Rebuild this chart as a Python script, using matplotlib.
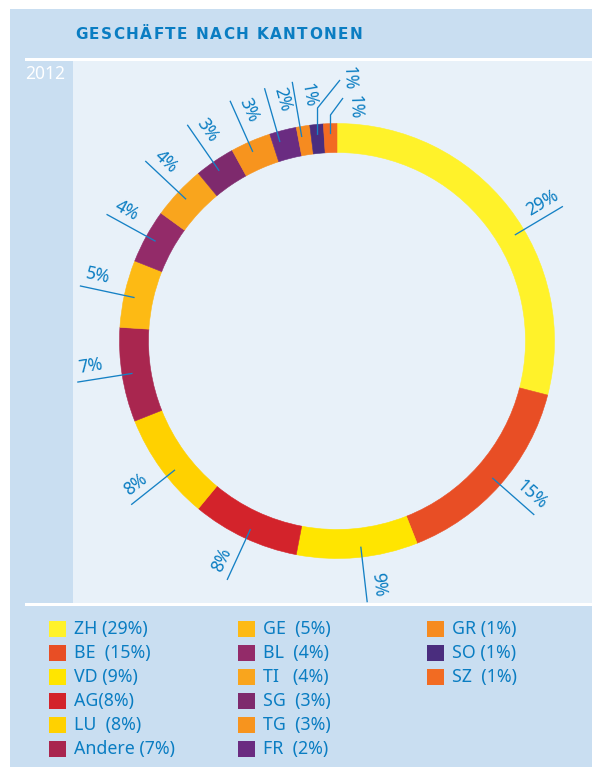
import numpy as np
import matplotlib
matplotlib.use('Agg')
import matplotlib.pyplot as plt
from matplotlib.patches import Rectangle
from matplotlib import font_manager
from matplotlib.font_manager import FontProperties

# ---------------- data ----------------
cantons = ['ZH', 'BE', 'VD', 'AG', 'LU', 'Andere', 'GE', 'BL', 'TI', 'SG',
           'TG', 'FR', 'GR', 'SO', 'SZ']
shares = [29, 15, 9, 8, 8, 7, 5, 4, 4, 3, 3, 2, 1, 1, 1]
colors = ['#FFF22A', '#E84E25', '#FFE500', '#D3232B', '#FFD100', '#A9264F',
          '#FDBA14', '#932B69', '#F9A51D', '#7E2A6D', '#F7941E', '#6A2C81',
          '#F68B20', '#4A2D7E', '#F26B22']
legend_pads = [1, 2, 1, 0, 2, 1, 2, 2, 3, 2, 2, 2, 1, 1, 2]
title = 'GESCHÄFTE NACH KANTONEN'
year = '2012'

# ---------------- style ----------------
W, H = 592, 767
BLUE_TXT = '#0A7DC2'
LINE_C = '#1581C5'
BG_OUT = '#C9DEF1'
BG_IN = '#E8F1F9'
FAM = ['Noto Sans', 'DejaVu Sans']

fig = plt.figure(figsize=(W / 100, H / 100), dpi=100)
fig.patch.set_facecolor('white')

bg = fig.add_axes([0, 0, 1, 1])
bg.set_xlim(0, W)
bg.set_ylim(H, 0)
bg.axis('off')

bg.add_patch(Rectangle((10, 9), W - 10, H - 9, facecolor=BG_OUT, edgecolor='none'))
bg.add_patch(Rectangle((73, 61), W - 73, 541.7, facecolor=BG_IN, edgecolor='none'))
bg.add_patch(Rectangle((25, 58.3), W - 25, 2.7, facecolor='white', edgecolor='none'))
bg.add_patch(Rectangle((25, 602.7), W - 25, 3.0, facecolor='white', edgecolor='none'))

# title with letter spacing
TSIZE = 11.0
tprop = FontProperties(family='DejaVu Sans', weight='bold', size=TSIZE)
fpath = font_manager.findfont(tprop)
ft = font_manager.get_font(fpath)
ft.set_size(TSIZE, 100)
advs = []
for ch in title:
    g = ft.load_char(ord(ch))
    advs.append(g.linearHoriAdvance / 65536.0)
x0, x1 = 75.0, 361.0
track = ((x1 - x0) - sum(advs[:-1]) - advs[-1] * 0.9) / (len(title) - 1)
x = x0
for ch, a in zip(title, advs):
    if ch != ' ':
        bg.text(x, 34.5, ch, fontproperties=tprop, color=BLUE_TXT,
                ha='left', va='center')
    x += a + track

bg.text(25, 74, year, family=FAM, fontsize=12.5, color='white', ha='left', va='center')

# legend
sq_x = [49, 238, 427]
tx_x = [74.5, 263, 452]
row_y0, row_dy = 629.3, 23.95
for i, (name, s, p, c) in enumerate(zip(cantons, shares, legend_pads, colors)):
    col, row = divmod(i, 6)
    y = row_y0 + row * row_dy
    bg.add_patch(Rectangle((sq_x[col], y - 8), 17, 16, facecolor=c, edgecolor='none'))
    bg.text(tx_x[col], y, f"{name}{' ' * p}({s}%)", family=FAM, fontsize=12.8,
            color=BLUE_TXT, ha='left', va='center')

# ---------------- donut ----------------
CX, CY, L = 337, 341, 300
R_OUT, RING_W = 217.5, 29
pax = fig.add_axes([(CX - L) / W, (H - CY - L) / H, 2 * L / W, 2 * L / H])
wedges, _ = pax.pie(shares, colors=colors, radius=R_OUT, startangle=90,
                    counterclock=False,
                    wedgeprops=dict(width=RING_W, linewidth=0.4))
for w, c in zip(wedges, colors):
    w.set_edgecolor(c)
pax.set_xlim(-L, L)
pax.set_ylim(-L, L)
pax.set_aspect('auto')
pax.axis('off')

ang_off = [-7, 0, 1.2, 0.5, 2.5, 0, 0.5, 0, 0, 0.5, 0.6, 1.6, 0.8, 0, 0]
R_IN_L, R_OUT_L, R_TXT, N_OFF = 207, 263, 247, 13.5
elbows = {
    'SO': dict(elbow=233, end=(3, 261), text=(11.5, 262.5)),
    'SZ': dict(elbow=226, end=(6, 243), text=(18, 234)),
}
for i, (w, s, name) in enumerate(zip(wedges, shares, cantons)):
    th = (w.theta1 + w.theta2) / 2 + ang_off[i]
    t = np.deg2rad(th)
    u = np.array([np.cos(t), np.sin(t)])
    lab = f"{s}%"
    p0 = R_IN_L * u
    if name in elbows:
        e = elbows[name]
        xs = [p0[0], p0[0], e['end'][0]]
        ys = [p0[1], e['elbow'], e['end'][1]]
        pax.plot(xs, ys, color=LINE_C, lw=0.95, solid_capstyle='butt')
        pax.text(e['text'][0], e['text'][1], lab, family=FAM, fontsize=12.6,
                 color=BLUE_TXT, rotation=-88, rotation_mode='anchor',
                 ha='center', va='center')
        continue
    p1 = R_OUT_L * u
    pax.plot([p0[0], p1[0]], [p0[1], p1[1]], color=LINE_C, lw=0.95,
             solid_capstyle='butt')
    if np.cos(t) > -0.05:
        rot = th
    else:
        rot = th - 180
    rot = (rot + 180) % 360 - 180
    rn = np.deg2rad(rot + 90)
    pt = R_TXT * u + N_OFF * np.array([np.cos(rn), np.sin(rn)])
    pax.text(pt[0], pt[1], lab, family=FAM, fontsize=12.6, color=BLUE_TXT,
             rotation=rot, rotation_mode='anchor', ha='center', va='center')

fig.savefig('out.png', dpi=100, facecolor='white')
